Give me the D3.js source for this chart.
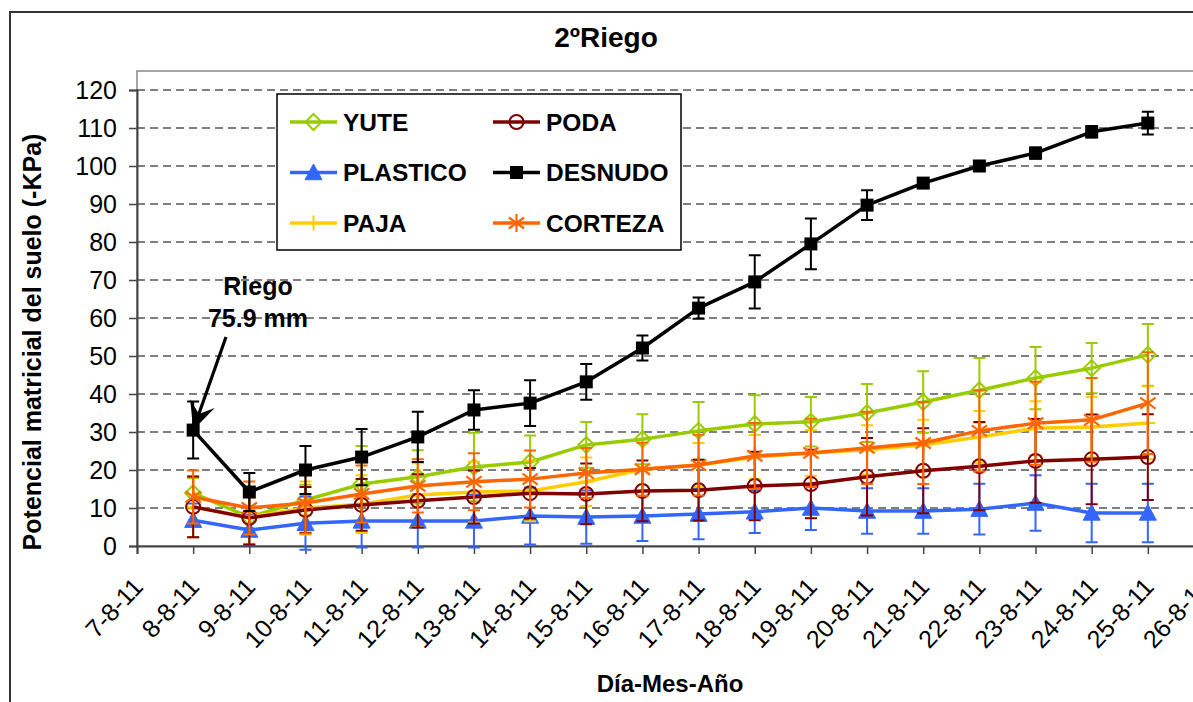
<!DOCTYPE html>
<html>
<head>
<meta charset="utf-8">
<script src="https://cdn.jsdelivr.net/npm/d3@7/dist/d3.min.js"></script>
<style>
  html, body { margin: 0; padding: 0; background: #fff; overflow: hidden; }
  text { font-family: "Liberation Sans", Arial, sans-serif; }
</style>
</head>
<body>
<svg id="chart" width="1193" height="702"></svg>
<script>
// ---- data ----
const dates = ["8-8-2011","9-8-2011","10-8-2011","11-8-2011","12-8-2011","13-8-2011","14-8-2011","15-8-2011","16-8-2011",
               "17-8-2011","18-8-2011","19-8-2011","20-8-2011","21-8-2011","22-8-2011","23-8-2011","24-8-2011","25-8-2011"];
const axisStart = "7-8-2011";
const axisEnd = "26-8-2011";
const yTicks = [0,10,20,30,40,50,60,70,80,90,100,110,120];

const yute     = [13.9, 7.6, 12.1, 16.3, 18.2, 20.8, 22.1, 26.6, 28.1, 30.3, 32.1, 32.7, 35.0, 37.9, 41.0, 44.2, 46.8, 50.3];
const yuteErr  = [4, 3, 4, 10, 7, 9, 7, 6, 6.6, 7.6, 7.6, 6.5, 7.6, 8.1, 8.5, 8.2, 6.6, 8.1];
const poda     = [10.3, 7.4, 9.5, 10.8, 11.9, 12.9, 13.9, 13.7, 14.5, 14.7, 15.8, 16.3, 18.2, 19.8, 21.0, 22.4, 22.8, 23.4];
const podaErr  = [8, 7, 6, 6.8, 7, 7, 6.6, 8, 8, 8, 9, 9, 10.2, 11.2, 11.6, 11, 11.8, 11.3];
const plastico = [6.8, 4.2, 6.0, 6.6, 6.6, 6.6, 7.9, 7.6, 7.9, 8.4, 9.0, 10.0, 9.2, 9.2, 9.7, 11.3, 8.7, 8.7];
const plasticoErr = [4.4, 4, 7, 7, 7, 7, 7.5, 7, 6.6, 6.6, 5.6, 5.8, 6, 6, 6.7, 7.3, 7.7, 7.7];
const desnudo  = [30.5, 14.2, 20.0, 23.4, 28.7, 35.8, 37.6, 43.2, 52.1, 62.6, 69.5, 79.5, 89.7, 95.5, 100.0, 103.4, 109.0, 111.3];
const desnudoErr = [7.5, 5, 6.3, 7.4, 6.6, 5.2, 6, 4.7, 3.3, 2.8, 7, 6.7, 3.9, 1.2, 1, 1.5, 1.5, 3];
const paja     = [10.3, 7.6, 10.0, 11.0, 13.4, 14.2, 14.5, 16.9, 20.2, 21.3, 23.4, 24.5, 25.3, 26.6, 28.7, 31.0, 31.3, 32.4];
const pajaErr  = [8, 7, 7, 7.6, 8.4, 8, 8, 6.4, 7, 5.8, 5.8, 6, 6.5, 6.6, 6.8, 7.1, 8, 9.6];
const corteza  = [12.9, 10.0, 11.3, 13.7, 15.8, 16.9, 17.6, 19.2, 20.2, 21.3, 23.7, 24.5, 25.8, 27.1, 30.3, 32.3, 33.2, 37.6];
const cortezaErr = [7, 7, 8, 7.5, 7, 7.5, 7.5, 6.6, 7, 8, 8.7, 9, 9.5, 10.8, 10.7, 10.9, 11, 13.4];

const seriesNames = ["YUTE","PODA","PLASTICO","DESNUDO","PAJA","CORTEZA"];
const seriesColors = ["#99CC00","#800000","#3366FF","#000000","#FFCC00","#FF6600"];
const seriesMarkers = ["diamond","circle","triangle","square","plus","asterisk"];

const titleText = "2ºRiego";
const yTitle = "Potencial matricial del suelo (-KPa)";
const xTitle = "Día-Mes-Año";
const annotation = ["Riego","75.9 mm"];

// ---- build ----
const parse = d3.utcParse("%d-%m-%Y");
const fmt = d3.utcFormat("%-d-%-m-%y");
const valuesByName = {YUTE:yute, PODA:poda, PLASTICO:plastico, DESNUDO:desnudo, PAJA:paja, CORTEZA:corteza};
const errsByName = {YUTE:yuteErr, PODA:podaErr, PLASTICO:plasticoErr, DESNUDO:desnudoErr, PAJA:pajaErr, CORTEZA:cortezaErr};
const series = seriesNames.map((n,i)=>({name:n, v:valuesByName[n], e:errsByName[n],
  color:seriesColors[i], marker:seriesMarkers[i]}));
const drawOrder = ["YUTE","PLASTICO","PAJA","PODA","CORTEZA","DESNUDO"];

const svg = d3.select("#chart");
const L = 137, T = 71, B = 546, R = 1204;

const x = d3.scaleUtc().domain([parse(axisStart), parse(axisEnd)]).range([L, R]);
const y = d3.scaleLinear().domain([0, 120]).range([B, 90]);

// outer chart border
svg.append("rect").attr("x",10).attr("y",12).attr("width",1400).attr("height",900)
  .attr("fill","#fff").attr("stroke","#333").attr("stroke-width",2);

// plot area border
svg.append("rect").attr("x",L).attr("y",T).attr("width",R-L+20).attr("height",B-T)
  .attr("fill","#fff").attr("stroke","#888").attr("stroke-width",1.5);

// gridlines
svg.append("g").selectAll("line").data(yTicks.filter(t=>t>0)).join("line")
  .attr("x1",L).attr("x2",R+20).attr("y1",d=>y(d)).attr("y2",d=>y(d))
  .attr("stroke","#000").attr("stroke-width",1.2).attr("stroke-dasharray","8,5");

// y axis
const yAxis = svg.append("g").attr("transform",`translate(${L},0)`)
  .call(d3.axisLeft(y).tickValues(yTicks).tickSize(8).tickPadding(12));
yAxis.select(".domain").attr("stroke","#444").attr("stroke-width",2);
yAxis.selectAll(".tick line").attr("stroke","#444").attr("stroke-width",1.5);
yAxis.selectAll(".tick text").attr("font-size",25).attr("fill","#000")
  .attr("font-family","'Liberation Sans', Arial, sans-serif");

// x axis
const xTicks = d3.utcDay.range(parse(axisStart), d3.utcDay.offset(parse(axisEnd),1));
const xAxis = svg.append("g").attr("transform",`translate(0,${B})`)
  .call(d3.axisBottom(x).tickValues(xTicks).tickFormat(fmt).tickSize(8));
xAxis.select(".domain").attr("stroke","#444").attr("stroke-width",2);
xAxis.selectAll(".tick line").attr("stroke","#444").attr("stroke-width",1.5);
xAxis.selectAll(".tick text").attr("font-size",25).attr("fill","#000")
  .attr("font-family","'Liberation Sans', Arial, sans-serif")
  .attr("text-anchor","end").attr("dy",0).attr("y",0)
  .attr("transform","translate(7,42) rotate(-47)");

// marker drawing
function drawMarker(g, type, cx, cy, color, scale=1) {
  const s = scale;
  if (type==="diamond") {
    const h = 8*s;
    g.append("path").attr("d",`M${cx},${cy-h}L${cx+h},${cy}L${cx},${cy+h}L${cx-h},${cy}Z`)
      .attr("fill","none").attr("stroke",color).attr("stroke-width",2);
  } else if (type==="circle") {
    g.append("circle").attr("cx",cx).attr("cy",cy).attr("r",7*s)
      .attr("fill","none").attr("stroke",color).attr("stroke-width",2);
  } else if (type==="triangle") {
    const h = 8.5*s;
    g.append("path").attr("d",`M${cx},${cy-h}L${cx+h},${cy+h*0.85}L${cx-h},${cy+h*0.85}Z`)
      .attr("fill",color).attr("stroke",color).attr("stroke-width",1);
  } else if (type==="square") {
    const h = 6.5*s;
    g.append("rect").attr("x",cx-h).attr("y",cy-h).attr("width",2*h).attr("height",2*h)
      .attr("fill",color);
  } else if (type==="plus") {
    const h = 7.5*s;
    g.append("path").attr("d",`M${cx-h},${cy}L${cx+h},${cy}M${cx},${cy-h}L${cx},${cy+h}`)
      .attr("stroke",color).attr("stroke-width",2);
  } else if (type==="asterisk") {
    const h = 9*s, d = h*0.85;
    g.append("path").attr("d",`M${cx},${cy-h}L${cx},${cy+h}M${cx-d},${cy-d*0.72}L${cx+d},${cy+d*0.72}M${cx-d},${cy+d*0.72}L${cx+d},${cy-d*0.72}`)
      .attr("stroke",color).attr("stroke-width",2.2);
  }
}

const plot = svg.append("g");
const line = d3.line().x(d=>x(d.date)).y(d=>y(d.v));
drawOrder.forEach(name => {
  const s = series.find(q=>q.name===name);
  const pts = dates.map((d,i)=>({date:parse(d), v:s.v[i], e:s.e[i]}));
  const g = plot.append("g");
  // error bars
  pts.forEach(p => {
    const cx = x(p.date), hi = y(p.v + p.e), lo = y(p.v - p.e);
    g.append("path")
      .attr("d",`M${cx},${hi}L${cx},${lo}M${cx-6},${hi}L${cx+6},${hi}M${cx-6},${lo}L${cx+6},${lo}`)
      .attr("stroke",s.color).attr("stroke-width",2).attr("fill","none");
  });
  g.append("path").datum(pts).attr("d",line).attr("fill","none")
    .attr("stroke",s.color).attr("stroke-width",3.5).attr("stroke-linejoin","round");
  pts.forEach(p => drawMarker(g, s.marker, x(p.date), y(p.v), s.color));
});

// title
svg.append("text").attr("x",606).attr("y",47).attr("text-anchor","middle")
  .attr("font-size",28).attr("font-weight","bold").text(titleText);

// axis titles
svg.append("text").attr("transform","translate(41,342) rotate(-90)").attr("text-anchor","middle")
  .attr("font-size",25).attr("font-weight","bold").text(yTitle);
svg.append("text").attr("x",670).attr("y",692).attr("text-anchor","middle")
  .attr("font-size",24).attr("font-weight","bold").text(xTitle);

// annotation
svg.append("text").attr("x",258).attr("y",295).attr("text-anchor","middle")
  .attr("font-size",25).attr("font-weight","bold").text(annotation[0]);
svg.append("text").attr("x",258).attr("y",327).attr("text-anchor","middle")
  .attr("font-size",25).attr("font-weight","bold").text(annotation[1]);
// arrow
(function(){
  const tx = x(parse(dates[0])), ty = y(desnudo[0]);
  const sx = 226, sy = 337;
  const dx = tx - sx, dy = ty - sy, len = Math.hypot(dx,dy);
  const ux = dx/len, uy = dy/len, px = -uy, py = ux;
  const hl = 28, hw = 13, notch = 17;
  svg.append("line").attr("x1",sx).attr("y1",sy).attr("x2",tx-ux*notch).attr("y2",ty-uy*notch)
    .attr("stroke","#000").attr("stroke-width",3.2);
  const bx = tx - ux*hl, by = ty - uy*hl, nx = tx - ux*notch, ny = ty - uy*notch;
  svg.append("path").attr("d",`M${tx},${ty}L${bx+px*hw},${by+py*hw}L${nx},${ny}L${bx-px*hw},${by-py*hw}Z`)
    .attr("fill","#000");
})();

// legend
const lg = svg.append("g");
lg.append("rect").attr("x",277).attr("y",94).attr("width",404).attr("height",156)
  .attr("fill","#fff").attr("stroke","#000").attr("stroke-width",1.5);
const legendPos = [[0,0],[1,0],[0,1],[1,1],[0,2],[1,2]];
series.forEach((s,i) => {
  const [c,r] = legendPos[i];
  const lx = 290 + c*203, ly = 122 + r*50.5;
  lg.append("line").attr("x1",lx).attr("x2",lx+47).attr("y1",ly).attr("y2",ly)
    .attr("stroke",s.color).attr("stroke-width",3.5);
  drawMarker(lg, s.marker, lx+23.5, ly, s.color);
  lg.append("text").attr("x",lx+53).attr("y",ly).attr("dy","0.35em")
    .attr("font-size",24.5).attr("font-weight","bold").text(s.name);
});
</script>
</body>
</html>
